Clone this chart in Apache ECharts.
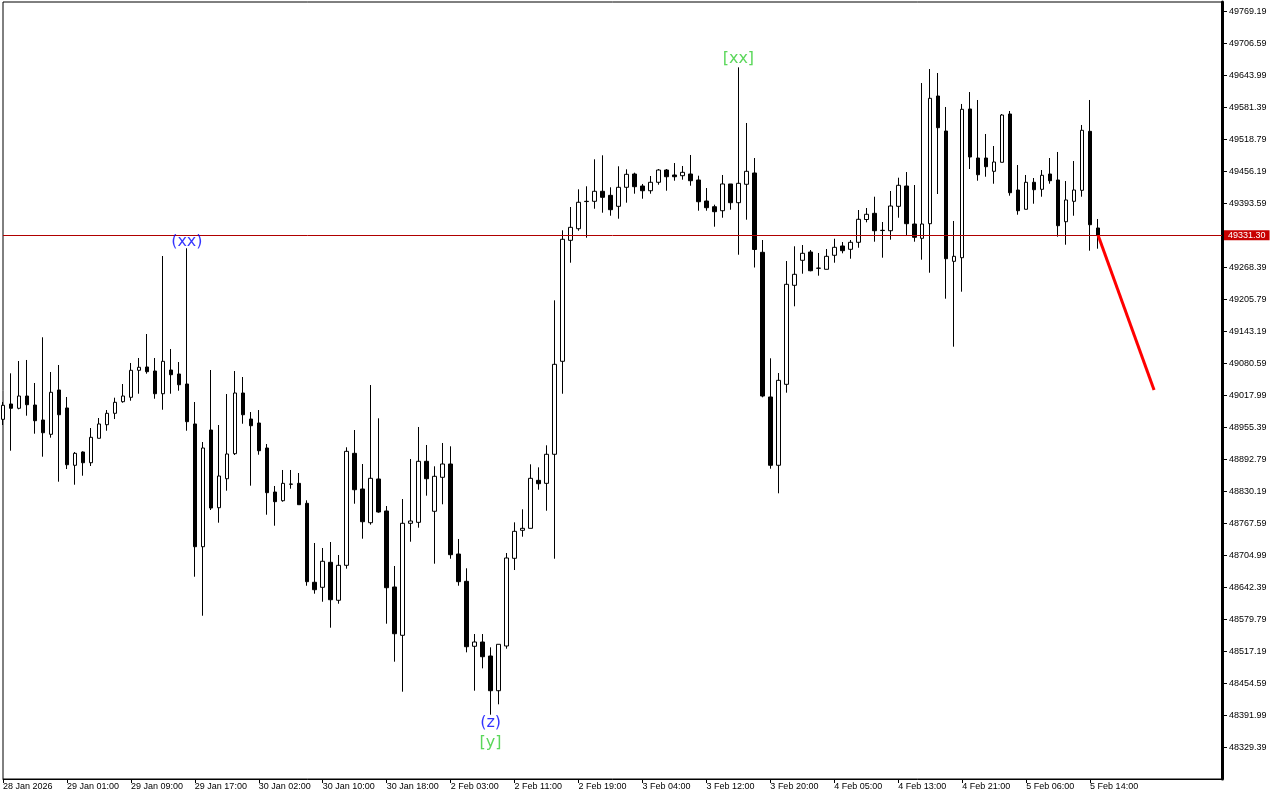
<!DOCTYPE html>
<html><head><meta charset="utf-8">
<script src="https://cdn.jsdelivr.net/npm/echarts@6/dist/echarts.min.js"></script>
<style>html,body{margin:0;padding:0;background:#fff;}#c{width:1280px;height:800px;}</style>
</head><body><div id="c"></div>
<script>
// ---- tick labels ----
const xTickLabels = ['28 Jan 2026','29 Jan 01:00','29 Jan 09:00','29 Jan 17:00','30 Jan 02:00','30 Jan 10:00','30 Jan 18:00','2 Feb 03:00','2 Feb 11:00','2 Feb 19:00','3 Feb 04:00','3 Feb 12:00','3 Feb 20:00','4 Feb 05:00','4 Feb 13:00','4 Feb 21:00','5 Feb 06:00','5 Feb 14:00'];
const yTickValues = [48329.39,48391.99,48454.59,48517.19,48579.79,48642.39,48704.99,48767.59,48830.19,48892.79,48955.39,49017.99,49080.59,49143.19,49205.79,49268.39,49393.59,49456.19,49518.79,49581.39,49643.99,49706.59,49769.19];

// ---- hourly OHLC ----
const opens = [48971.0,49001.0,48992.6,49016.6,48999.0,48969.7,48941.7,49028.4,48993.2,48881.1,48907.1,48886.1,48933.9,48960.5,48982.8,49005.5,49014.1,49066.9,49073.4,49065.5,49021.1,49067.5,49059.7,49040.1,48961.9,48721.8,48950.1,48798.1,48854.8,48903.8,49022.5,48971.6,48963.8,48914.9,48828.8,48811.8,48843.9,48845.8,48806.7,48652.2,48642.4,48691.3,48617.0,48685.4,48904.5,48834.7,48768.8,48854.3,48791.7,48643.0,48548.5,48767.6,48769.5,48888.9,48791.1,48857.6,48883.6,48707.5,48654.1,48527.0,48535.4,48508.0,48440.1,48527.6,48699.1,48753.9,48757.8,48851.7,48845.8,48902.6,49084.5,49321.2,49343.9,49397.5,49397.5,49417.1,49409.2,49387.7,49424.9,49450.9,49427.4,49418.2,49434.7,49458.7,49449.0,49447.6,49450.9,49439.2,49398.1,49386.9,49379.1,49431.4,49394.8,49430.8,49452.9,49297.7,49014.7,48881.1,49039.5,49233.2,49282.1,49298.3,49266.4,49264.5,49291.9,49310.1,49303.6,49317.3,49361.9,49374.0,49340.8,49340.0,49387.7,49427.4,49353.1,49325.1,49353.7,49603.5,49535.0,49280.1,49287.2,49578.1,49482.2,49482.2,49456.2,49473.8,49568.3,49419.6,49381.9,49434.7,49421.0,49450.9,49439.2,49357.6,49397.5,49419.0,49534.4,49345.3];
const closes = [48998.4,48992.6,49016.6,48999.6,48968.3,48944.8,49023.9,48980.0,48882.2,48904.5,48886.1,48935.8,48961.9,48982.8,49004.3,49016.6,49066.9,49072.8,49064.2,49021.1,49084.5,49058.3,49038.7,48966.4,48721.8,48914.9,48797.5,48860.1,48903.2,49022.5,48980.0,48958.5,48909.6,48827.5,48809.9,48845.8,48844.5,48804.0,48653.4,48637.7,48693.3,48618.1,48685.4,48908.4,48833.3,48770.7,48855.6,48789.7,48641.6,48551.6,48767.6,48772.1,48888.9,48854.8,48859.5,48883.6,48706.2,48653.4,48526.2,48535.4,48506.6,48440.1,48530.9,48699.7,48751.9,48757.8,48855.6,48845.1,48902.6,49078.6,49323.2,49346.6,49395.6,49397.0,49417.1,49405.3,49381.1,49424.9,49450.3,49426.1,49418.2,49434.7,49458.7,49445.6,49445.6,49454.2,49437.8,49396.7,49385.0,49377.2,49431.4,49394.8,49432.7,49456.2,49303.2,49016.6,48881.1,49047.3,49235.1,49254.7,49295.8,49261.7,49266.9,49289.9,49307.5,49300.9,49317.3,49362.3,49372.1,49340.0,49340.3,49388.3,49428.8,49353.7,49327.1,49353.1,49599.0,49541.5,49285.2,49289.9,49577.5,49484.2,49449.5,49465.2,49474.4,49566.3,49414.3,49379.1,49434.7,49420.2,49448.4,49437.8,49349.8,49400.1,49419.6,49536.4,49351.7,49331.3];
const lows = [48959.9,48909.6,48990.6,48978.1,48942.9,48897.9,48935.1,48849.0,48873.8,48843.1,48860.7,48879.7,48933.9,48948.7,48971.6,49003.5,49007.4,49021.1,49060.3,49011.3,48989.8,49021.1,49027.0,48948.7,48663.1,48586.8,48793.6,48768.8,48831.4,48901.2,48962.4,48841.2,48901.8,48784.4,48762.9,48809.9,48835.3,48804.0,48645.5,48629.9,48614.2,48563.4,48610.3,48678.8,48805.9,48737.5,48764.9,48788.3,48571.2,48496.9,48438.2,48731.6,48759.0,48821.6,48688.6,48804.8,48698.3,48645.5,48515.2,48440.1,48483.9,48393.2,48413.5,48522.3,48676.2,48741.4,48757.8,48833.3,48792.2,48698.3,49021.1,49277.4,49340.0,49326.3,49383.0,49375.2,49369.3,49363.5,49394.8,49412.4,49402.6,49412.4,49430.0,49418.2,49437.8,49439.8,49428.0,49379.1,49379.1,49347.8,49365.4,49381.1,49293.0,49361.5,49268.0,49014.1,48874.4,48826.3,49023.1,49192.1,49255.9,49260.6,49252.0,49264.5,49277.4,49295.8,49285.2,49306.7,49356.4,49318.5,49287.2,49322.4,49365.4,49331.6,49318.5,49283.3,49257.8,49411.8,49207.0,49113.1,49220.7,49460.7,49437.8,49445.6,49431.9,49473.8,49408.5,49371.3,49381.9,49392.8,49406.5,49431.9,49328.3,49312.6,49369.3,49406.5,49300.9,49304.8];
const highs = [49004.9,49061.0,49085.1,49087.1,49042.1,49131.5,49063.6,49077.3,49014.7,48907.1,48908.4,48954.0,48973.6,48989.2,49013.3,49040.1,49081.2,49091.0,49137.9,49091.0,49290.5,49108.6,49083.1,49305.6,49004.9,48926.6,49067.5,48959.9,49020.5,49065.5,49053.8,48985.3,48989.2,48922.7,48840.6,48871.9,48871.9,48866.0,48812.6,48729.1,48719.3,48731.0,48705.6,48916.3,48950.1,48883.6,49038.1,48973.0,48801.4,48684.1,48815.1,48893.4,48956.0,48920.8,48879.1,48924.7,48918.2,48736.9,48679.6,48551.0,48551.0,48525.0,48530.9,48709.5,48769.5,48795.0,48883.0,48877.1,48920.2,49203.8,49340.8,49386.4,49421.0,49426.9,49479.7,49487.5,49424.9,49466.0,49460.1,49453.5,49431.4,49447.0,49460.7,49460.7,49472.4,49466.6,49488.1,49447.6,49423.5,49390.9,49449.0,49431.4,49659.6,49550.7,49482.2,49321.8,49090.4,49061.6,49280.7,49309.5,49312.0,49302.2,49296.4,49304.2,49324.3,49317.9,49321.8,49380.5,49384.4,49406.5,49357.0,49417.7,49443.7,49454.8,49429.4,49628.9,49656.3,49648.5,49582.0,49359.0,49587.9,49611.3,49595.7,49529.2,49505.7,49568.3,49574.2,49468.5,49449.0,49443.1,49458.7,49482.2,49494.0,49437.2,49476.3,49546.8,49595.7,49362.9];

// ---- current price & projection ----
const lastPrice = 49331.30;
const forecastBars = [137, 144];
const forecastPrices = [49331.3, 49028.4];

// ---- wave annotations ----
const waveTexts = ['(xx)', '[xx]', '(z)', '[y]'];
const waveBars = [23, 92, 61, 61];
const wavePrices = [49319.0, 49676.9, 48376.9, 48337.8];
const waveDegree = ['minor', 'major', 'minor', 'major'];

const BARS_PER_TICK = 8;
const degreeColor = { minor: '#0000ff', major: '#32cd32' };
const axisFont = 'Liberation Sans';

const candleData = opens.map((o, i) => [i, o, closes[i], lows[i], highs[i]]);
const xTickPos = xTickLabels.map((_, i) => i * BARS_PER_TICK);
const waveData = waveTexts.map((t, i) => ({
  value: [waveBars[i], wavePrices[i]],
  label: { formatter: t, color: degreeColor[waveDegree[i]] }
}));

const chart = echarts.init(document.getElementById('c'), null, { renderer: 'canvas' });
chart.setOption({
  animation: false,
  backgroundColor: '#ffffff',
  grid: { left: 2, right: 58, top: 2, bottom: 21, show: true, borderColor: '#000', borderWidth: 1, backgroundColor: '#fff' },
  xAxis: {
    type: 'value', min: 0, max: 152.5,
    axisLine: { show: true, onZero: false, lineStyle: { color: '#000', width: 1 } },
    axisTick: { show: true, length: 4, lineStyle: { color: '#000' }, customValues: xTickPos },
    axisLabel: {
      customValues: xTickPos, align: 'left', margin: 3, color: '#000',
      fontFamily: axisFont, fontSize: 9,
      formatter: v => xTickLabels[Math.round(v / BARS_PER_TICK)] || ''
    },
    splitLine: { show: false }
  },
  yAxis: {
    type: 'value', position: 'right', min: 48267.4, max: 49787.4, scale: true,
    axisLine: { show: true, onZero: false, lineStyle: { color: '#000', width: 3 } },
    axisTick: { show: true, length: 5, lineStyle: { color: '#000' }, customValues: yTickValues },
    axisLabel: {
      customValues: yTickValues, align: 'left', margin: 7, color: '#000',
      fontFamily: axisFont, fontSize: 9,
      formatter: v => v.toFixed(2)
    },
    splitLine: { show: false }
  },
  series: [
    {
      type: 'candlestick', data: candleData, barWidth: 4, clip: true,
      itemStyle: { color: '#ffffff', color0: '#000000', borderColor: '#000000', borderColor0: '#000000', borderColorDoji: '#000000', borderWidth: 1 },
      markLine: {
        silent: true, symbol: ['none', 'none'], animation: false,
        lineStyle: { color: '#b00000', width: 1, type: 'solid' },
        label: {
          show: true, position: 'end', distance: 2, formatter: lastPrice.toFixed(2),
          backgroundColor: '#c80000', color: '#fff', fontFamily: axisFont, fontSize: 9,
          lineHeight: 10, padding: [0, 4, 0, 4]
        },
        emphasis: { disabled: true },
        data: [{ yAxis: lastPrice }]
      }
    },
    {
      type: 'line', data: forecastBars.map((b, i) => [b, forecastPrices[i]]),
      symbol: 'none', lineStyle: { color: '#ff0000', width: 3 }, z: 5
    },
    {
      type: 'scatter', data: waveData, symbolSize: 1,
      itemStyle: { color: 'rgba(0,0,0,0)' },
      label: { show: true, position: 'inside', fontFamily: 'DejaVu Sans', fontSize: 16 },
      z: 6
    }
  ]
});
</script>
</body></html>
